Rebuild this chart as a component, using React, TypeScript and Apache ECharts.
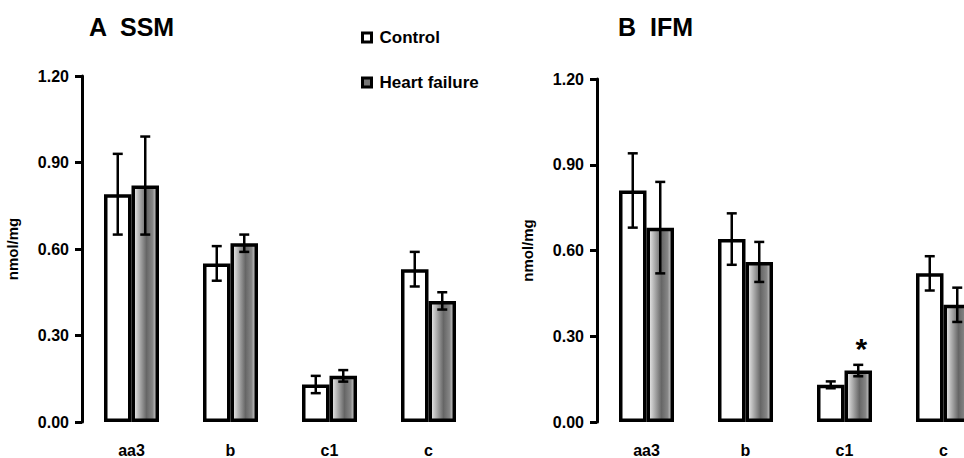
import React, { useEffect, useRef } from "react";
import * as echarts from "echarts";

const categories = ["aa3", "b", "c1", "c"];
const ssmControl = [0.79, 0.55, 0.13, 0.53];
const ssmControlErr = [0.14, 0.06, 0.03, 0.06];
const ssmHF = [0.82, 0.62, 0.16, 0.42];
const ssmHFErr = [0.17, 0.03, 0.02, 0.03];
const ifmControl = [0.81, 0.64, 0.13, 0.52];
const ifmControlErr = [0.13, 0.09, 0.012, 0.06];
const ifmHF = [0.68, 0.56, 0.18, 0.41];
const ifmHFErr = [0.16, 0.07, 0.02, 0.06];
const ifmMarks = ["", "", "*", ""];
const yTicks = [0, 0.3, 0.6, 0.9, 1.2];

const FONT = "'Liberation Sans', Arial, Helvetica, sans-serif";
const BAR_W = 27.5;

const hfFill = new echarts.graphic.LinearGradient(0, 0, 1, 0, [
  { offset: 0, color: "#f0f0f0" },
  { offset: 0.55, color: "#666666" },
  { offset: 0.8, color: "#858585" },
  { offset: 1, color: "#dcdcdc" },
]);

function errSeries(name: string, gi: number, means: number[], errs: number[], offset: number, marks?: string[]) {
  return {
    type: "custom",
    name: name + "-err",
    xAxisIndex: gi,
    yAxisIndex: gi,
    z: 5,
    silent: true,
    data: means.map((m, i) => [i, m, errs[i]]),
    encode: { x: 0, y: 1 },
    renderItem: (params: any, api: any) => {
      const i = api.value(0);
      const m = api.value(1);
      const e = api.value(2);
      const mk = marks ? marks[i] : "";
      const top = api.coord([i, m + e]);
      const bot = api.coord([i, m - e]);
      const x = top[0] + offset;
      const cap = 5;
      const style = { stroke: "#000", lineWidth: 2.5 };
      const children: any[] = [
        { type: "line", shape: { x1: x, y1: top[1], x2: x, y2: bot[1] }, style },
        { type: "line", shape: { x1: x - cap, y1: top[1], x2: x + cap, y2: top[1] }, style },
        { type: "line", shape: { x1: x - cap, y1: bot[1], x2: x + cap, y2: bot[1] }, style },
      ];
      if (mk) {
        children.push({
          type: "text",
          style: {
            text: mk,
            x: x + 3,
            y: top[1] - 16,
            fill: "#000",
            font: `bold 30px ${FONT}`,
            textAlign: "center",
            textVerticalAlign: "middle",
          },
        });
      }
      return { type: "group", children };
    },
  };
}

function barSeries(name: string, gi: number, data: number[], fill: any) {
  return {
    type: "bar",
    name,
    xAxisIndex: gi,
    yAxisIndex: gi,
    data,
    barWidth: BAR_W,
    barGap: "0%",
    itemStyle: { color: fill, borderColor: "#000", borderWidth: 3.5 },
  };
}

function yAxis(gi: number) {
  return {
    type: "value",
    gridIndex: gi,
    min: 0,
    max: 1.2,
    interval: 0.3,
    name: "nmol/mg",
    nameLocation: "middle",
    nameGap: 62,
    nameRotate: 90,
    nameTextStyle: { fontFamily: FONT, fontWeight: "bold", fontSize: 15, color: "#000" },
    axisLine: { show: true, lineStyle: { color: "#000", width: 3 } },
    axisTick: { show: true, length: 7, lineStyle: { color: "#000", width: 3 } },
    axisLabel: {
      margin: 13,
      fontFamily: FONT,
      fontWeight: "bold",
      fontSize: 16,
      color: "#000",
      formatter: (v: number) => (yTicks.some((t) => Math.abs(t - v) < 1e-9) ? v.toFixed(2) : ""),
    },
    splitLine: { show: false },
  };
}

function xAxis(gi: number) {
  return {
    type: "category",
    gridIndex: gi,
    data: categories,
    axisLine: { show: false },
    axisTick: { show: false },
    axisLabel: { margin: 20, fontFamily: FONT, fontWeight: "bold", fontSize: 16, color: "#000" },
  };
}

export default function App() {
  const ref = useRef<HTMLDivElement>(null);
  useEffect(() => {
    if (!ref.current) return;
    const chart = echarts.init(ref.current, null, { renderer: "svg" });
    chart.setOption({
      animation: false,
      backgroundColor: "#fff",
      title: [
        { text: "A  SSM", left: 84, top: 9, textStyle: { fontFamily: FONT, fontWeight: "bold", fontSize: 25, color: "#000" } },
        { text: "B  IFM", left: 613, top: 9, textStyle: { fontFamily: FONT, fontWeight: "bold", fontSize: 25, color: "#000" } },
      ],
      legend: {
        orient: "vertical",
        left: 361,
        top: 29,
        padding: 0,
        itemWidth: 9,
        itemHeight: 9,
        itemGap: 28,
        data: [
          { name: "Control", icon: "rect", itemStyle: { color: "#fff", borderColor: "#000", borderWidth: 3 } },
          { name: "Heart failure", icon: "rect", itemStyle: { color: "#777", borderColor: "#000", borderWidth: 3 } },
        ],
        textStyle: { fontFamily: FONT, fontWeight: "bold", fontSize: 17, color: "#000", lineHeight: 17, padding: [0, 0, 0, 3] },
        selectedMode: false,
      },
      grid: [
        { left: 82, top: 76, width: 396, height: 347 },
        { left: 597, top: 79, width: 396, height: 345 },
      ],
      xAxis: [xAxis(0), xAxis(1)],
      yAxis: [yAxis(0), yAxis(1)],
      series: [
        barSeries("Control", 0, ssmControl, "#fff"),
        barSeries("Heart failure", 0, ssmHF, hfFill),
        barSeries("Control", 1, ifmControl, "#fff"),
        barSeries("Heart failure", 1, ifmHF, hfFill),
        errSeries("ssmC", 0, ssmControl, ssmControlErr, -BAR_W / 2),
        errSeries("ssmH", 0, ssmHF, ssmHFErr, BAR_W / 2),
        errSeries("ifmC", 1, ifmControl, ifmControlErr, -BAR_W / 2),
        errSeries("ifmH", 1, ifmHF, ifmHFErr, BAR_W / 2, ifmMarks),
      ],
    });
    return () => chart.dispose();
  }, []);
  return (
    <div style={{ position: "absolute", left: 0, top: 0, width: 964, height: 458, overflow: "hidden" }}>
      <div ref={ref} style={{ width: 1010, height: 458 }} />
    </div>
  );
}
